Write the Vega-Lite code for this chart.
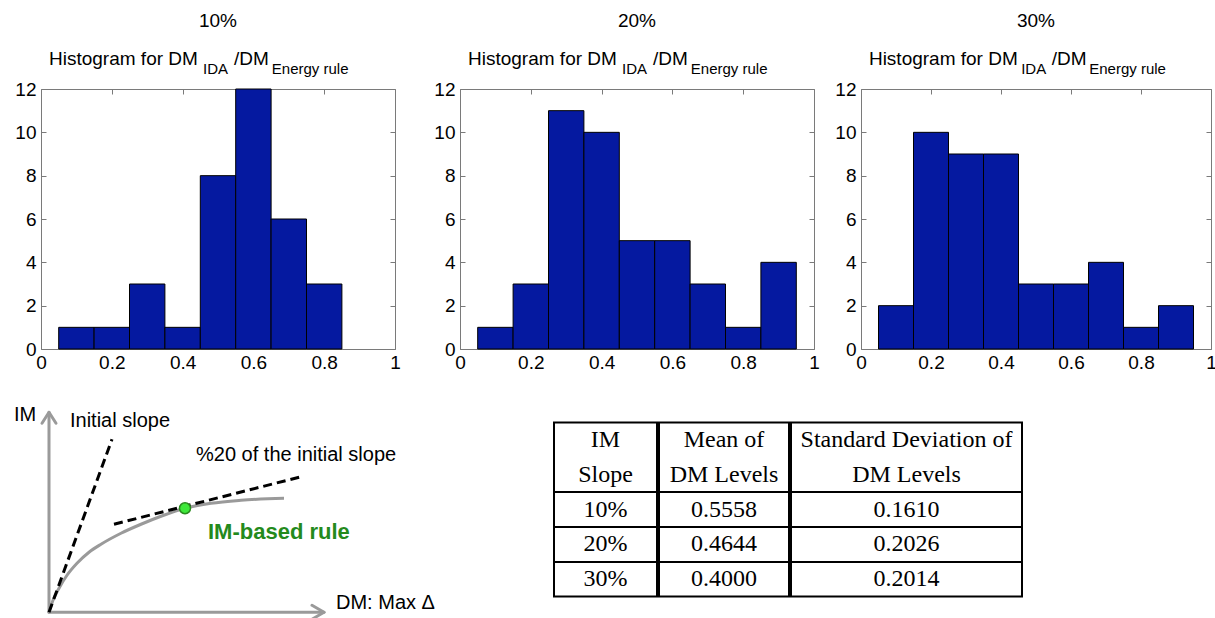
{
  "$schema": "https://vega.github.io/schema/vega-lite/v6.json",
  "background": "white",
  "padding": {"left": 13, "top": 12, "right": 0, "bottom": 0},
  "config": {
    "font": "Liberation Sans",
    "view": {"stroke": null},
    "axis": {
      "grid": false,
      "labelColor": "black",
      "labelFont": "Liberation Sans",
      "labelFontSize": 19,
      "domainColor": "#7a7a7a",
      "tickColor": "#7a7a7a",
      "domainWidth": 1,
      "tickWidth": 1,
      "labelFlush": false,
      "labelOverlap": false
    },
    "title": {"font": "Liberation Sans", "fontWeight": "normal", "color": "black", "fontSize": 19, "offset": 19},
    "text": {"color": "black", "font": "Liberation Sans"}
  },
  "datasets": {
    "hist": [
      {"slope": "10%", "lo": 0.05, "hi": 0.15, "count": 1},
      {"slope": "10%", "lo": 0.15, "hi": 0.25, "count": 1},
      {"slope": "10%", "lo": 0.25, "hi": 0.35, "count": 3},
      {"slope": "10%", "lo": 0.35, "hi": 0.45, "count": 1},
      {"slope": "10%", "lo": 0.45, "hi": 0.55, "count": 8},
      {"slope": "10%", "lo": 0.55, "hi": 0.65, "count": 12},
      {"slope": "10%", "lo": 0.65, "hi": 0.75, "count": 6},
      {"slope": "10%", "lo": 0.75, "hi": 0.85, "count": 3},
      {"slope": "20%", "lo": 0.05, "hi": 0.15, "count": 1},
      {"slope": "20%", "lo": 0.15, "hi": 0.25, "count": 3},
      {"slope": "20%", "lo": 0.25, "hi": 0.35, "count": 11},
      {"slope": "20%", "lo": 0.35, "hi": 0.45, "count": 10},
      {"slope": "20%", "lo": 0.45, "hi": 0.55, "count": 5},
      {"slope": "20%", "lo": 0.55, "hi": 0.65, "count": 5},
      {"slope": "20%", "lo": 0.65, "hi": 0.75, "count": 3},
      {"slope": "20%", "lo": 0.75, "hi": 0.85, "count": 1},
      {"slope": "20%", "lo": 0.85, "hi": 0.95, "count": 4},
      {"slope": "30%", "lo": 0.05, "hi": 0.15, "count": 2},
      {"slope": "30%", "lo": 0.15, "hi": 0.25, "count": 10},
      {"slope": "30%", "lo": 0.25, "hi": 0.35, "count": 9},
      {"slope": "30%", "lo": 0.35, "hi": 0.45, "count": 9},
      {"slope": "30%", "lo": 0.45, "hi": 0.55, "count": 3},
      {"slope": "30%", "lo": 0.55, "hi": 0.65, "count": 3},
      {"slope": "30%", "lo": 0.65, "hi": 0.75, "count": 4},
      {"slope": "30%", "lo": 0.75, "hi": 0.85, "count": 1},
      {"slope": "30%", "lo": 0.85, "hi": 0.95, "count": 2}
    ],
    "caption": [
      {"main": "Histogram for DM", "sub1": "IDA", "mid": "/DM", "sub2": "Energy rule"}
    ],
    "schematic": [
      {"path": "im-axis", "style": "axis", "i": 0, "dm": 2, "im": 2},
      {"path": "im-axis", "style": "axis", "i": 1, "dm": 2, "im": 52},
      {"path": "dm-axis", "style": "axis", "i": 0, "dm": 2, "im": 2},
      {"path": "dm-axis", "style": "axis", "i": 1, "dm": 70.75, "im": 2},
      {"path": "im-arrow", "style": "axis", "i": 0, "dm": 0.25, "im": 49.25},
      {"path": "im-arrow", "style": "axis", "i": 1, "dm": 2, "im": 52},
      {"path": "im-arrow", "style": "axis", "i": 2, "dm": 3.75, "im": 49.25},
      {"path": "dm-arrow", "style": "axis", "i": 0, "dm": 67.75, "im": 3.75},
      {"path": "dm-arrow", "style": "axis", "i": 1, "dm": 70.75, "im": 2},
      {"path": "dm-arrow", "style": "axis", "i": 2, "dm": 67.75, "im": 0.25},
      {"path": "curve", "style": "curve", "i": 0, "dm": 2, "im": 2},
      {"path": "curve", "style": "curve", "i": 1, "dm": 3, "im": 5},
      {"path": "curve", "style": "curve", "i": 2, "dm": 4.5, "im": 8},
      {"path": "curve", "style": "curve", "i": 3, "dm": 6.5, "im": 11.25},
      {"path": "curve", "style": "curve", "i": 4, "dm": 9, "im": 14.25},
      {"path": "curve", "style": "curve", "i": 5, "dm": 12, "im": 17},
      {"path": "curve", "style": "curve", "i": 6, "dm": 15, "im": 19},
      {"path": "curve", "style": "curve", "i": 7, "dm": 20, "im": 21.75},
      {"path": "curve", "style": "curve", "i": 8, "dm": 25, "im": 24},
      {"path": "curve", "style": "curve", "i": 9, "dm": 30, "im": 26},
      {"path": "curve", "style": "curve", "i": 10, "dm": 36, "im": 28},
      {"path": "curve", "style": "curve", "i": 11, "dm": 42.5, "im": 29.25},
      {"path": "curve", "style": "curve", "i": 12, "dm": 50, "im": 30},
      {"path": "curve", "style": "curve", "i": 13, "dm": 60.75, "im": 30.5},
      {"path": "initial-slope", "style": "dashed", "i": 0, "dm": 2, "im": 2},
      {"path": "initial-slope", "style": "dashed", "i": 1, "dm": 17.75, "im": 45.25},
      {"path": "reduced-slope", "style": "dashed", "i": 0, "dm": 18.25, "im": 24},
      {"path": "reduced-slope", "style": "dashed", "i": 1, "dm": 65.5, "im": 36}
    ],
    "tangent_point": [
      {"dm": 36, "im": 28}
    ],
    "schematic_labels": [
      {"label": "IM", "kind": "plain", "dm": -6.75, "im": 51.25},
      {"label": "Initial slope", "kind": "plain", "dm": 7.25, "im": 49.75},
      {"label": "%20 of the initial slope", "kind": "plain", "dm": 38.75, "im": 41.25},
      {"label": "DM: Max Δ", "kind": "plain", "dm": 73.75, "im": 4.25},
      {"label": "IM-based rule", "kind": "rule", "dm": 41.75, "im": 22}
    ],
    "table": [
      {"col": "slope", "row": "h1", "text": "IM"},
      {"col": "slope", "row": "h2", "text": "Slope"},
      {"col": "slope", "row": "r1", "text": "10%"},
      {"col": "slope", "row": "r2", "text": "20%"},
      {"col": "slope", "row": "r3", "text": "30%"},
      {"col": "mean", "row": "h1", "text": "Mean of"},
      {"col": "mean", "row": "h2", "text": "DM Levels"},
      {"col": "mean", "row": "r1", "text": "0.5558"},
      {"col": "mean", "row": "r2", "text": "0.4644"},
      {"col": "mean", "row": "r3", "text": "0.4000"},
      {"col": "sd", "row": "h1", "text": "Standard Deviation of"},
      {"col": "sd", "row": "h2", "text": "DM Levels"},
      {"col": "sd", "row": "r1", "text": "0.1610"},
      {"col": "sd", "row": "r2", "text": "0.2026"},
      {"col": "sd", "row": "r3", "text": "0.2014"}
    ]
  },
  "spacing": 27,
  "vconcat": [
    {
      "spacing": 14,
      "hconcat": [
        {
          "spacing": 32,
          "hconcat": [
            {
              "width": 354, "height": 260,
              "title": {"text": "10%"},
              "resolve": {"axis": {"x": "independent", "y": "independent"}},
              "layer": [
                {
                  "data": {"name": "hist"},
                  "transform": [{"filter": "datum.slope === '10%'"}],
                  "mark": {"type": "bar", "fill": "#0519a0", "stroke": "black", "strokeWidth": 1},
                  "encoding": {
                    "x": {"field": "lo", "type": "quantitative", "scale": {"domain": [0, 1], "nice": false},
                          "axis": {"orient": "bottom", "title": null, "values": [0, 0.2, 0.4, 0.6, 0.8, 1], "format": "~g", "tickSize": -5, "labelPadding": 9}},
                    "x2": {"field": "hi"},
                    "y": {"field": "count", "type": "quantitative", "scale": {"domain": [0, 12], "nice": false},
                          "axis": {"orient": "left", "title": null, "values": [0, 2, 4, 6, 8, 10, 12], "tickSize": -5, "labelPadding": 10}},
                    "y2": {"datum": 0}
                  }
                },
                {
                  "data": {"name": "caption"},
                  "mark": {"type": "text", "align": "left", "baseline": "middle", "fontSize": 19, "dy": -30},
                  "encoding": {
                    "x": {"datum": 0.0226, "type": "quantitative", "scale": {"domain": [0, 1], "nice": false},
                          "axis": {"orient": "top", "title": null, "labels": false, "values": [0, 0.2, 0.4, 0.6, 0.8, 1], "tickSize": -5}},
                    "y": {"datum": 12, "type": "quantitative", "scale": {"domain": [0, 12], "nice": false},
                          "axis": {"orient": "right", "title": null, "labels": false, "values": [0, 2, 4, 6, 8, 10, 12], "tickSize": -5}},
                    "text": {"field": "main"}
                  }
                },
                {
                  "data": {"name": "caption"},
                  "mark": {"type": "text", "align": "left", "baseline": "middle", "fontSize": 15, "dy": -20},
                  "encoding": {
                    "x": {"datum": 0.4576, "type": "quantitative", "axis": null},
                    "y": {"datum": 12, "type": "quantitative", "axis": null},
                    "text": {"field": "sub1"}
                  }
                },
                {
                  "data": {"name": "caption"},
                  "mark": {"type": "text", "align": "left", "baseline": "middle", "fontSize": 19, "dy": -30},
                  "encoding": {
                    "x": {"datum": 0.545, "type": "quantitative", "axis": null},
                    "y": {"datum": 12, "type": "quantitative", "axis": null},
                    "text": {"field": "mid"}
                  }
                },
                {
                  "data": {"name": "caption"},
                  "mark": {"type": "text", "align": "left", "baseline": "middle", "fontSize": 15, "dy": -20},
                  "encoding": {
                    "x": {"datum": 0.652, "type": "quantitative", "axis": null},
                    "y": {"datum": 12, "type": "quantitative", "axis": null},
                    "text": {"field": "sub2"}
                  }
                }
              ]
            },
            {
              "width": 354, "height": 260,
              "title": {"text": "20%"},
              "resolve": {"axis": {"x": "independent", "y": "independent"}},
              "layer": [
                {
                  "data": {"name": "hist"},
                  "transform": [{"filter": "datum.slope === '20%'"}],
                  "mark": {"type": "bar", "fill": "#0519a0", "stroke": "black", "strokeWidth": 1},
                  "encoding": {
                    "x": {"field": "lo", "type": "quantitative", "scale": {"domain": [0, 1], "nice": false},
                          "axis": {"orient": "bottom", "title": null, "values": [0, 0.2, 0.4, 0.6, 0.8, 1], "format": "~g", "tickSize": -5, "labelPadding": 9}},
                    "x2": {"field": "hi"},
                    "y": {"field": "count", "type": "quantitative", "scale": {"domain": [0, 12], "nice": false},
                          "axis": {"orient": "left", "title": null, "values": [0, 2, 4, 6, 8, 10, 12], "tickSize": -5, "labelPadding": 10}},
                    "y2": {"datum": 0}
                  }
                },
                {
                  "data": {"name": "caption"},
                  "mark": {"type": "text", "align": "left", "baseline": "middle", "fontSize": 19, "dy": -30},
                  "encoding": {
                    "x": {"datum": 0.0226, "type": "quantitative", "scale": {"domain": [0, 1], "nice": false},
                          "axis": {"orient": "top", "title": null, "labels": false, "values": [0, 0.2, 0.4, 0.6, 0.8, 1], "tickSize": -5}},
                    "y": {"datum": 12, "type": "quantitative", "scale": {"domain": [0, 12], "nice": false},
                          "axis": {"orient": "right", "title": null, "labels": false, "values": [0, 2, 4, 6, 8, 10, 12], "tickSize": -5}},
                    "text": {"field": "main"}
                  }
                },
                {
                  "data": {"name": "caption"},
                  "mark": {"type": "text", "align": "left", "baseline": "middle", "fontSize": 15, "dy": -20},
                  "encoding": {
                    "x": {"datum": 0.4576, "type": "quantitative", "axis": null},
                    "y": {"datum": 12, "type": "quantitative", "axis": null},
                    "text": {"field": "sub1"}
                  }
                },
                {
                  "data": {"name": "caption"},
                  "mark": {"type": "text", "align": "left", "baseline": "middle", "fontSize": 19, "dy": -30},
                  "encoding": {
                    "x": {"datum": 0.545, "type": "quantitative", "axis": null},
                    "y": {"datum": 12, "type": "quantitative", "axis": null},
                    "text": {"field": "mid"}
                  }
                },
                {
                  "data": {"name": "caption"},
                  "mark": {"type": "text", "align": "left", "baseline": "middle", "fontSize": 15, "dy": -20},
                  "encoding": {
                    "x": {"datum": 0.652, "type": "quantitative", "axis": null},
                    "y": {"datum": 12, "type": "quantitative", "axis": null},
                    "text": {"field": "sub2"}
                  }
                }
              ]
            }
          ]
        },
        {
          "width": 350, "height": 260,
          "title": {"text": "30%"},
          "resolve": {"axis": {"x": "independent", "y": "independent"}},
          "layer": [
            {
              "data": {"name": "hist"},
              "transform": [{"filter": "datum.slope === '30%'"}],
              "mark": {"type": "bar", "fill": "#0519a0", "stroke": "black", "strokeWidth": 1},
              "encoding": {
                "x": {"field": "lo", "type": "quantitative", "scale": {"domain": [0, 1], "nice": false},
                      "axis": {"orient": "bottom", "title": null, "values": [0, 0.2, 0.4, 0.6, 0.8, 1], "format": "~g", "tickSize": -5, "labelPadding": 9}},
                "x2": {"field": "hi"},
                "y": {"field": "count", "type": "quantitative", "scale": {"domain": [0, 12], "nice": false},
                      "axis": {"orient": "left", "title": null, "values": [0, 2, 4, 6, 8, 10, 12], "tickSize": -5, "labelPadding": 10}},
                "y2": {"datum": 0}
              }
            },
            {
              "data": {"name": "caption"},
              "mark": {"type": "text", "align": "left", "baseline": "middle", "fontSize": 19, "dy": -30},
              "encoding": {
                "x": {"datum": 0.0226, "type": "quantitative", "scale": {"domain": [0, 1], "nice": false},
                      "axis": {"orient": "top", "title": null, "labels": false, "values": [0, 0.2, 0.4, 0.6, 0.8, 1], "tickSize": -5}},
                "y": {"datum": 12, "type": "quantitative", "scale": {"domain": [0, 12], "nice": false},
                      "axis": {"orient": "right", "title": null, "labels": false, "values": [0, 2, 4, 6, 8, 10, 12], "tickSize": -5}},
                "text": {"field": "main"}
              }
            },
            {
              "data": {"name": "caption"},
              "mark": {"type": "text", "align": "left", "baseline": "middle", "fontSize": 15, "dy": -20},
              "encoding": {
                "x": {"datum": 0.4576, "type": "quantitative", "axis": null},
                "y": {"datum": 12, "type": "quantitative", "axis": null},
                "text": {"field": "sub1"}
              }
            },
            {
              "data": {"name": "caption"},
              "mark": {"type": "text", "align": "left", "baseline": "middle", "fontSize": 19, "dy": -30},
              "encoding": {
                "x": {"datum": 0.545, "type": "quantitative", "axis": null},
                "y": {"datum": 12, "type": "quantitative", "axis": null},
                "text": {"field": "mid"}
              }
            },
            {
              "data": {"name": "caption"},
              "mark": {"type": "text", "align": "left", "baseline": "middle", "fontSize": 15, "dy": -20},
              "encoding": {
                "x": {"datum": 0.652, "type": "quantitative", "axis": null},
                "y": {"datum": 12, "type": "quantitative", "axis": null},
                "text": {"field": "sub2"}
              }
            }
          ]
        }
      ]
    },
    {
      "spacing": 115,
      "center": true,
      "hconcat": [
        {
          "width": 397, "height": 221,
          "encoding": {
            "x": {"field": "dm", "type": "quantitative", "scale": {"domain": [0, 99.25], "nice": false, "zero": false}, "axis": null},
            "y": {"field": "im", "type": "quantitative", "scale": {"domain": [0, 55.25], "nice": false, "zero": false}, "axis": null}
          },
          "layer": [
            {
              "data": {"name": "schematic"},
              "transform": [{"filter": "datum.style === 'axis'"}],
              "mark": {"type": "line", "color": "#9a9a9a", "strokeWidth": 3, "strokeCap": "round", "strokeJoin": "round"},
              "encoding": {"detail": {"field": "path"}, "order": {"field": "i", "type": "quantitative"}}
            },
            {
              "data": {"name": "schematic"},
              "transform": [{"filter": "datum.style === 'curve'"}],
              "mark": {"type": "line", "color": "#9a9a9a", "strokeWidth": 3, "interpolate": "monotone"},
              "encoding": {"order": {"field": "i", "type": "quantitative"}}
            },
            {
              "data": {"name": "schematic"},
              "transform": [{"filter": "datum.style === 'dashed'"}],
              "mark": {"type": "line", "color": "black", "strokeWidth": 3, "strokeDash": [9, 5]},
              "encoding": {"detail": {"field": "path"}, "order": {"field": "i", "type": "quantitative"}}
            },
            {
              "data": {"name": "tangent_point"},
              "mark": {"type": "point", "filled": true, "fill": "#3ee83a", "stroke": "#2a8a1e", "strokeWidth": 1.5, "size": 120, "opacity": 1}
            },
            {
              "data": {"name": "schematic_labels"},
              "transform": [{"filter": "datum.kind === 'plain'"}],
              "mark": {"type": "text", "align": "left", "baseline": "middle", "fontSize": 20, "color": "black"},
              "encoding": {"text": {"field": "label"}}
            },
            {
              "data": {"name": "schematic_labels"},
              "transform": [{"filter": "datum.kind === 'rule'"}],
              "mark": {"type": "text", "align": "left", "baseline": "middle", "fontSize": 22, "fontWeight": "bold", "color": "#248a1c"},
              "encoding": {"text": {"field": "label"}}
            }
          ]
        },
        {
          "spacing": 0,
          "hconcat": [
            {
              "width": 103, "height": 174,
              "view": {"stroke": "black", "strokeWidth": 2},
              "data": {"name": "table"},
              "transform": [{"filter": "datum.col === 'slope'"}],
              "mark": {"type": "text", "font": "Liberation Serif", "fontSize": 24, "color": "black"},
              "encoding": {
                "y": {"field": "row", "type": "nominal",
                      "scale": {"type": "band", "domain": ["h1", "h2", "r1", "r2", "r3"], "paddingInner": 0, "paddingOuter": 0},
                      "axis": {"values": ["r1", "r2", "r3"], "grid": true, "gridColor": "black", "gridWidth": 2, "bandPosition": 0, "labels": false, "ticks": false, "domain": false, "title": null, "minExtent": 0}},
                "text": {"field": "text"}
              }
            },
            {
              "width": 130, "height": 174,
              "view": {"stroke": "black", "strokeWidth": 2},
              "data": {"name": "table"},
              "transform": [{"filter": "datum.col === 'mean'"}],
              "mark": {"type": "text", "font": "Liberation Serif", "fontSize": 24, "color": "black"},
              "encoding": {
                "y": {"field": "row", "type": "nominal",
                      "scale": {"type": "band", "domain": ["h1", "h2", "r1", "r2", "r3"], "paddingInner": 0, "paddingOuter": 0},
                      "axis": {"values": ["r1", "r2", "r3"], "grid": true, "gridColor": "black", "gridWidth": 2, "bandPosition": 0, "labels": false, "ticks": false, "domain": false, "title": null, "minExtent": 0}},
                "text": {"field": "text"}
              }
            },
            {
              "width": 231, "height": 174,
              "view": {"stroke": "black", "strokeWidth": 2},
              "data": {"name": "table"},
              "transform": [{"filter": "datum.col === 'sd'"}],
              "mark": {"type": "text", "font": "Liberation Serif", "fontSize": 24, "color": "black"},
              "encoding": {
                "y": {"field": "row", "type": "nominal",
                      "scale": {"type": "band", "domain": ["h1", "h2", "r1", "r2", "r3"], "paddingInner": 0, "paddingOuter": 0},
                      "axis": {"values": ["r1", "r2", "r3"], "grid": true, "gridColor": "black", "gridWidth": 2, "bandPosition": 0, "labels": false, "ticks": false, "domain": false, "title": null, "minExtent": 0}},
                "text": {"field": "text"}
              }
            }
          ]
        }
      ]
    }
  ]
}
